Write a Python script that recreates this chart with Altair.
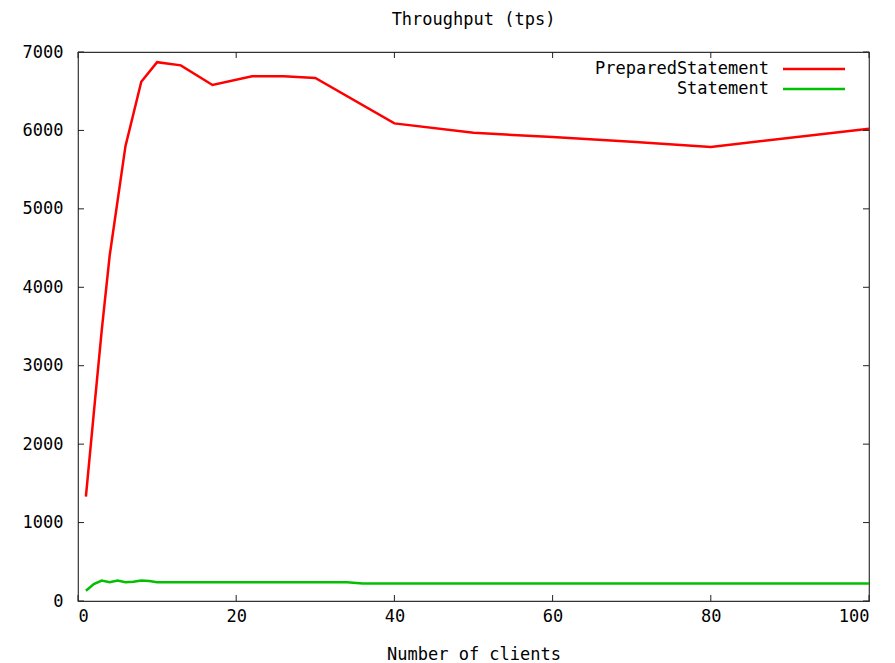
import altair as alt
import pandas as pd

# --- data ---
prep_clients = [1, 2, 3, 4, 5, 6, 8, 10, 13, 17, 22, 26, 30, 40, 50, 60, 70, 80, 100]
prep_tps = [1330, 2400, 3450, 4400, 5100, 5800, 6620, 6870, 6830, 6580, 6690, 6690, 6670,
            6090, 5970, 5915, 5855, 5790, 6020]

stmt_clients = [1, 2, 3, 4, 5, 6, 7, 8, 9, 10, 34, 36, 100]
stmt_tps = [130, 215, 260, 240, 262, 240, 245, 262, 255, 240, 238, 222, 222]

series_names = ["PreparedStatement", "Statement"]
series_colors = ["#ff0000", "#00c000"]

x_ticks = [0, 20, 40, 60, 80, 100]
y_ticks = [0, 1000, 2000, 3000, 4000, 5000, 6000, 7000]

FONT = "DejaVu Sans Mono"
FS = 17
W, H = 791, 549
TL = 6  # inward tick length

df = pd.concat([
    pd.DataFrame({"clients": prep_clients, "tps": prep_tps, "series": series_names[0]}),
    pd.DataFrame({"clients": stmt_clients, "tps": stmt_tps, "series": series_names[1]}),
])
xt = pd.DataFrame({"t": x_ticks})
yt = pd.DataFrame({"t": y_ticks})

xscale = alt.Scale(domain=[0, 100], nice=False, zero=False)
yscale = alt.Scale(domain=[0, 7000], nice=False)

lines = alt.Chart(df).mark_line(strokeWidth=2.5, strokeJoin="miter").encode(
    x=alt.X("clients:Q", scale=xscale,
            axis=alt.Axis(values=x_ticks, title="Number of clients", tickSize=0, format="d",
                          labelPadding=7, titlePadding=22, domain=False, grid=False,
                          labelFont=FONT, labelFontSize=FS, labelColor="black",
                          titleFont=FONT, titleFontSize=FS, titleFontWeight="normal",
                          titleColor="black")),
    y=alt.Y("tps:Q", scale=yscale,
            axis=alt.Axis(values=y_ticks, title=None, tickSize=0, labelPadding=15, format="d",
                          domain=False, grid=False,
                          labelFont=FONT, labelFontSize=FS, labelColor="black")),
    color=alt.Color("series:N", scale=alt.Scale(domain=series_names, range=series_colors),
                    legend=None),
    detail="series:N",
)

tick_color = "#222222"
xt_bottom = alt.Chart(xt).mark_rule(color=tick_color, strokeWidth=1).encode(
    x=alt.X("t:Q", scale=xscale), y=alt.value(H), y2=alt.value(H - TL))
xt_top = alt.Chart(xt).mark_rule(color=tick_color, strokeWidth=1).encode(
    x=alt.X("t:Q", scale=xscale), y=alt.value(0), y2=alt.value(TL))
yt_left = alt.Chart(yt).mark_rule(color=tick_color, strokeWidth=1).encode(
    y=alt.Y("t:Q", scale=yscale), x=alt.value(0), x2=alt.value(TL))
yt_right = alt.Chart(yt).mark_rule(color=tick_color, strokeWidth=1).encode(
    y=alt.Y("t:Q", scale=yscale), x=alt.value(W - TL), x2=alt.value(W))

legend_layers = []
for i, (name, col) in enumerate(zip(series_names, series_colors)):
    yy = 17 + 20 * i
    one = pd.DataFrame({"label": [name]})
    legend_layers.append(
        alt.Chart(one).mark_text(align="right", baseline="middle", font=FONT, fontSize=FS,
                                 color="black").encode(
            text="label:N", x=alt.value(691), y=alt.value(yy)))
    legend_layers.append(
        alt.Chart(one).mark_rule(color=col, strokeWidth=2.5).encode(
            x=alt.value(705), x2=alt.value(767), y=alt.value(yy)))

chart = alt.layer(lines, xt_bottom, xt_top, yt_left, yt_right, *legend_layers).properties(
    width=W, height=H,
    background="white",
    title=alt.TitleParams("Throughput (tps)", font=FONT, fontSize=FS, fontWeight="normal",
                          anchor="middle", offset=14, color="black"),
    padding={"left": 78, "top": 52, "right": 26, "bottom": 62},
    autosize=alt.AutoSizeParams(type="none"),
).configure_view(stroke="#333333", strokeWidth=1.2)

chart.save("out.html", embed_options={"renderer": "svg", "actions": False})
